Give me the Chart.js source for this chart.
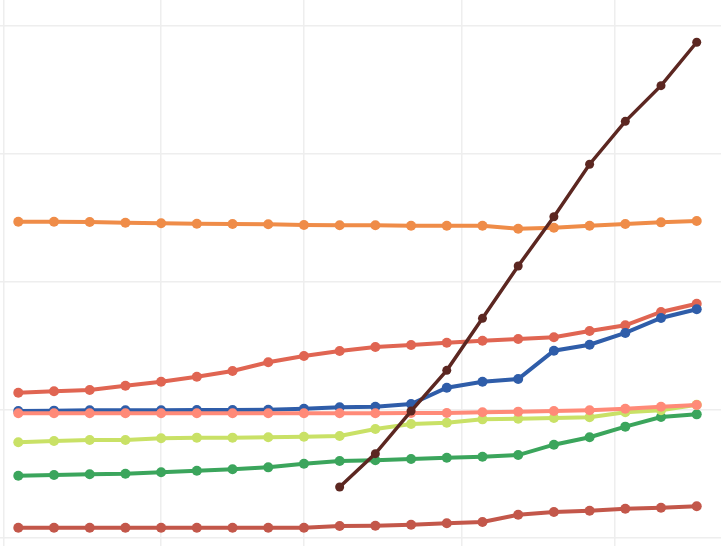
<!DOCTYPE html>
<html>
<head>
<meta charset="utf-8">
<script src="https://cdn.jsdelivr.net/npm/chart.js@4"></script>
<style>
  html, body { margin: 0; padding: 0; background: #fff; }
  #wrap { width: 721px; height: 546px; }
</style>
</head>
<body>
<div id="wrap"><canvas id="chart"></canvas></div>
<script>
// x positions of the 20 observations
const categories = [0, 1, 2, 3, 4, 5, 6, 7, 8, 9, 10, 11, 12, 13, 14, 15, 16, 17, 18, 19];

const brownSeries  = [null, null, null, null, null, null, null, null, null, 39.8, 65.9, 99.2, 131.0, 171.6, 212.5, 251.0, 292.0, 325.5, 353.4, 387.3];
const orangeSeries = [247.1, 247.1, 246.9, 246.3, 245.9, 245.5, 245.3, 245.1, 244.5, 244.3, 244.3, 244.0, 244.0, 244.0, 241.6, 242.4, 244.0, 245.3, 246.6, 247.7];
const redSeries    = [113.5, 114.6, 115.6, 119.0, 122.1, 126.0, 130.5, 137.3, 142.2, 146.1, 149.2, 150.8, 152.6, 154.1, 155.5, 156.8, 161.7, 166.2, 176.6, 183.0];
const salmonSeries = [97.4, 97.4, 97.4, 97.4, 97.4, 97.4, 97.4, 97.4, 97.4, 97.4, 97.4, 97.6, 97.6, 98.2, 98.7, 99.2, 99.8, 101.0, 102.6, 103.9];
const blueSeries   = [99.2, 99.5, 99.8, 99.8, 99.8, 100.0, 100.0, 100.2, 101.0, 102.1, 102.6, 104.7, 117.4, 122.1, 124.2, 146.3, 151.0, 160.2, 171.9, 178.7];
const limeSeries   = [74.8, 75.8, 76.6, 76.6, 77.9, 78.4, 78.4, 78.7, 79.1, 79.7, 85.2, 89.1, 90.1, 92.7, 93.2, 93.8, 94.3, 98.2, 99.8, 104.1];
const greenSeries  = [48.7, 49.2, 49.8, 50.2, 51.3, 52.6, 53.7, 55.2, 58.0, 60.2, 60.7, 61.7, 62.7, 63.5, 64.8, 72.9, 78.7, 87.0, 94.5, 96.6];
const rustSeries   = [8.0, 8.0, 8.0, 8.0, 8.0, 8.0, 8.0, 8.0, 8.0, 9.4, 9.6, 10.4, 11.5, 12.5, 18.2, 20.3, 21.3, 22.9, 23.7, 24.8];

// gridline positions
const xGridTicks = [-0.42, 4, 8, 12.43, 16.71];
const yGridTicks = [0, 100, 200, 300, 400];

function pts(values) {
  return categories.map((c, i) => ({ x: c, y: values[i] }));
}

function ds(values, color, width, radius) {
  return {
    data: pts(values),
    borderColor: color,
    backgroundColor: color,
    borderWidth: width,
    pointRadius: radius,
    pointHoverRadius: radius,
    pointBorderWidth: 0,
    tension: 0,
    spanGaps: false
  };
}

new Chart(document.getElementById('chart'), {
  type: 'line',
  data: {
    datasets: [
      ds(brownSeries, '#5c2721', 3.5, 4.5),
      ds(salmonSeries, '#ff8a78', 4, 5),
      ds(limeSeries, '#c9e166', 4, 5),
      ds(blueSeries, '#2f5da9', 4, 5),
      ds(greenSeries, '#3ba55c', 4, 5),
      ds(redSeries, '#e06552', 4, 5),
      ds(orangeSeries, '#ef8c48', 4, 5),
      ds(rustSeries, '#c3574a', 4, 5)
    ]
  },
  options: {
    responsive: true,
    maintainAspectRatio: false,
    animation: false,
    layout: { padding: 0, autoPadding: false },
    plugins: { legend: { display: false }, tooltip: { enabled: false } },
    scales: {
      x: {
        type: 'linear',
        min: -0.5125,
        max: 19.68,
        afterBuildTicks: (axis) => { axis.ticks = xGridTicks.map(v => ({ value: v })); },
        ticks: { display: false },
        grid: { color: '#eeeeee', lineWidth: 1.5, drawTicks: false },
        border: { display: false }
      },
      y: {
        min: -6.25,
        max: 420.3,
        afterBuildTicks: (axis) => { axis.ticks = yGridTicks.map(v => ({ value: v })); },
        ticks: { display: false },
        grid: { color: '#eeeeee', lineWidth: 1.5, drawTicks: false },
        border: { display: false }
      }
    }
  }
});
</script>
</body>
</html>
